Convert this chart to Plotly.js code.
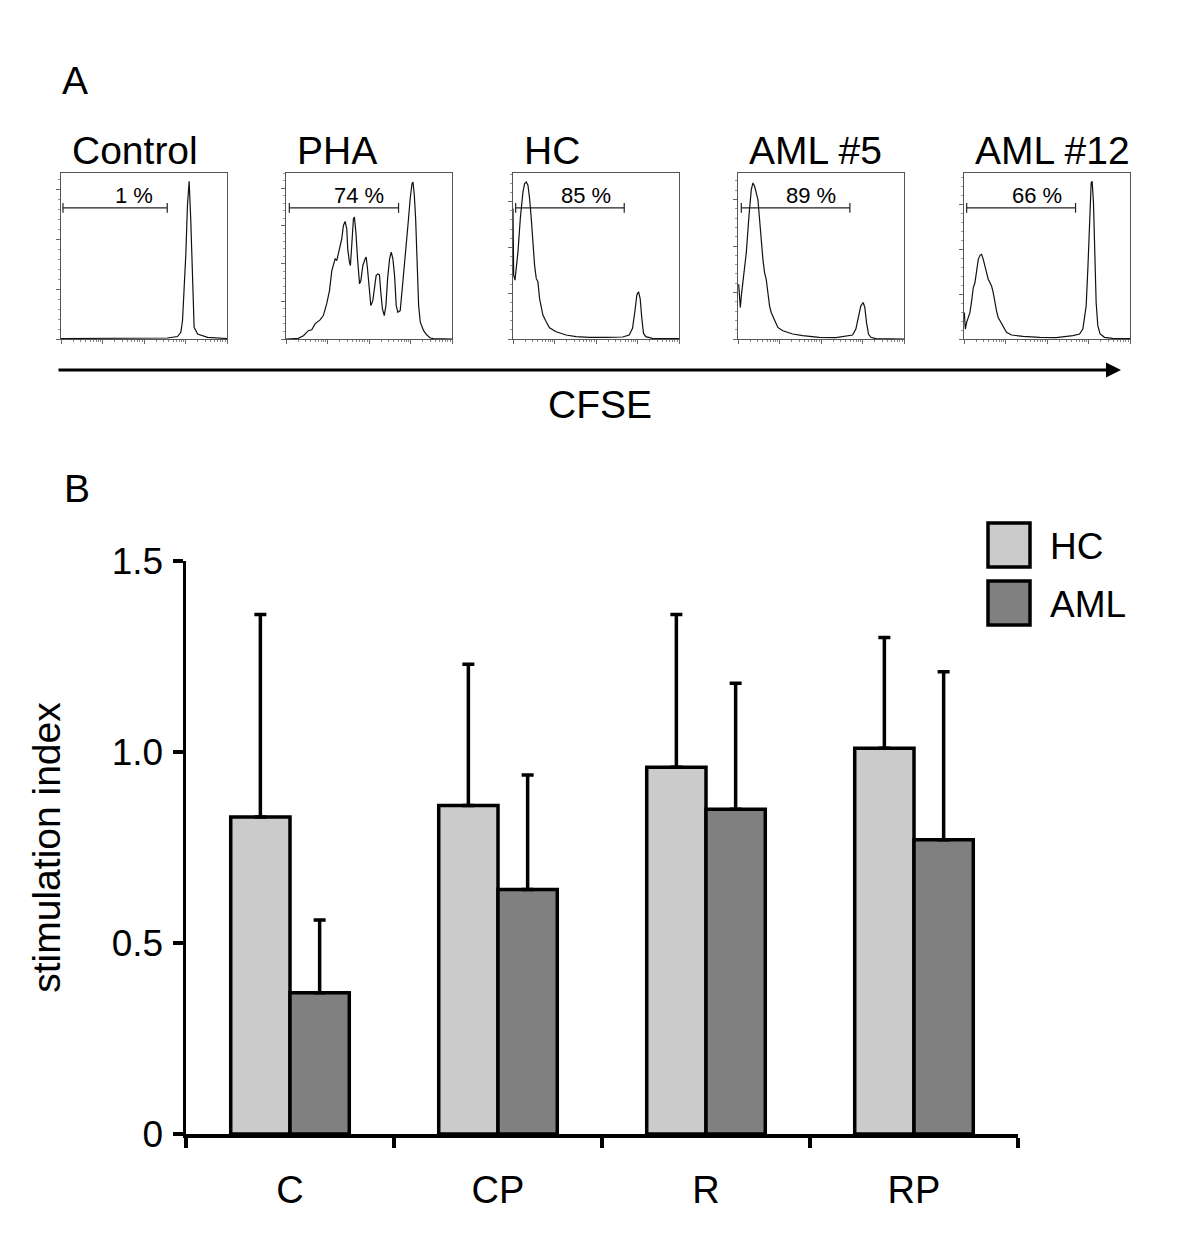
<!DOCTYPE html>
<html>
<head>
<meta charset="utf-8">
<script src="https://cdn.plot.ly/plotly-3.0.1.min.js"></script>
<style>html,body{margin:0;padding:0;background:#fff;}#chart{width:1200px;height:1259px;}</style>
</head>
<body>
<div id="chart"></div>
<script>
// ---------- Panel A: CFSE histograms (x = % of log CFSE scale, y = % of max count) ----------
const histNames = ['Control', 'PHA', 'HC', 'AML #5', 'AML #12'];
const pctLabels = ['1 %', '74 %', '85 %', '89 %', '66 %'];
const gateStart = [1.2, 2.0, 1.6, 2.0, 1.6];
const gateEnd = [64, 67.8, 67, 67.4, 67.2];

const ctrlX = [0, 30, 55, 64, 70.2, 72.2, 73.2, 74.2, 75.2, 76.2, 77.2, 78.2, 79.2, 80.2, 82.3, 88.3, 100];
const ctrlY = [0.3, 0.3, 0.4, 0.6, 1.5, 4, 11, 28, 51, 81, 95, 71, 31, 7, 3, 1, 0.3];

const phaX = [0, 7.4, 10.5, 13.5, 15.5, 17.5, 20.5, 22.5, 24.5, 26.2, 27.6, 29.6, 30.6, 31.6, 32.6, 33.6, 34.6, 35.6, 36.6, 37.2, 38.2, 38.8, 39.6, 40.6, 41.2, 42.1, 43.1, 44.3, 45.1, 46.3, 47.7, 48.3, 49.1, 50.1, 51.1, 52.3, 53.3, 54.3, 55.3, 56.3, 57.1, 58.1, 59.2, 60.2, 61.2, 62.4, 63.4, 64.4, 65.4, 66.4, 67.4, 68.8, 70.2, 71.4, 72.8, 73.8, 74.8, 75.9, 76.5, 77.3, 78.1, 78.9, 79.9, 80.9, 82.9, 84.9, 86.9, 88.9, 100];
const phaY = [0, 0.4, 2.0, 5.0, 5.6, 9.1, 11.5, 14.1, 21.1, 29.2, 41.2, 48.3, 47.3, 51.3, 56.3, 60.4, 68.4, 70.8, 66.4, 54.3, 46.3, 44.3, 56.3, 72.4, 73.4, 64.4, 48.3, 33.2, 35.2, 44.3, 48.3, 49.3, 42.3, 28.2, 20.1, 23.1, 30.2, 38.2, 39.2, 38.6, 28.2, 18.1, 14.1, 20.1, 36.2, 48.3, 52.3, 48.3, 38.2, 20.1, 16.1, 17.1, 32.2, 44.3, 62.4, 72.4, 84.5, 93.6, 94.6, 86.5, 72.4, 48.3, 20.1, 10.1, 5.0, 2.4, 0.6, 0.2, 0];

const hcX = [0, 0.4, 1.2, 2, 3, 4.4, 6, 7, 8, 9, 10, 11, 12, 13, 14, 15, 16, 17, 18, 20, 22, 26, 32, 38, 46, 56, 66, 70, 72, 73.4, 74.6, 75.6, 76.6, 77.6, 78.6, 80, 84, 100];
const hcY = [78.6, 38.5, 35.5, 42.5, 52.5, 72.5, 88.6, 93.6, 94.6, 92.6, 84.6, 72.5, 56.5, 44.5, 36.5, 34.5, 24.4, 18.4, 14.4, 10.4, 6.8, 4.4, 2.4, 1.4, 1.0, 1.0, 1.2, 2.4, 6.4, 16.4, 26.5, 28.5, 24.4, 12.4, 3.4, 1.4, 0.4, 0.2];

const aml5X = [0.4, 1.4, 2, 3.4, 5, 6.6, 8, 9, 10, 11, 12, 13, 14, 15, 16, 17, 18, 19, 20, 22, 24, 27, 33, 39, 49, 59, 65, 69, 71, 72.6, 74, 75.4, 76.4, 77.4, 78.6, 80, 83, 100];
const aml5Y = [33, 19, 26, 38, 52, 74, 90, 94, 92, 88, 84, 72, 58, 48, 40, 36, 28, 20, 16, 11, 7, 5, 3, 2, 1, 0.8, 1.6, 2.4, 6, 14, 20, 22, 19, 10, 3, 1, 0.2, 0];

const aml12X = [0.2, 0.8, 1.6, 2.6, 3.6, 4.6, 5.6, 6.6, 7.6, 8.6, 9.6, 10.6, 11.6, 12.6, 13.6, 14.6, 15.6, 16.6, 17.6, 18.6, 19.6, 20.6, 21.6, 23.6, 25.6, 28.6, 35.6, 45.6, 55.6, 65.6, 69.6, 71.6, 73.6, 74.6, 75.6, 76.6, 77.2, 78, 78.8, 79.6, 80.6, 82, 84.6, 89.6, 100];
const aml12Y = [16, 6, 10, 13, 16, 23, 31, 34, 41, 48, 50.4, 51, 48, 43, 40, 36, 34, 32, 28, 22, 17, 13, 11, 7, 4, 2.4, 1.6, 1, 0.8, 2, 3, 6, 20, 42, 72, 94, 95, 82, 52, 22, 8, 3, 1, 0.4, 0.2];

// ---------- Panel B: stimulation index ----------
const categories = ['C', 'CP', 'R', 'RP'];
const hcMean = [0.83, 0.86, 0.96, 1.01];
const hcErr = [0.53, 0.37, 0.40, 0.29];
const amlMean = [0.37, 0.64, 0.85, 0.77];
const amlErr = [0.19, 0.30, 0.33, 0.44];
const yTickVals = [0, 0.5, 1.0, 1.5];
const yTickText = ['0', '0.5', '1.0', '1.5'];

// ---------- build ----------
const W = 1200, H = 1259;
const px = v => v / W;
const py = v => 1 - v / H;
const FONT = 'Liberation Sans, Arial, Helvetica, sans-serif';

const histX = [ctrlX, phaX, hcX, aml5X, aml12X];
const histY = [ctrlY, phaY, hcY, aml5Y, aml12Y];
const boxLeft = [61, 286, 513, 738, 964];
const boxW = 166;
const boxTop = 173, boxBottom = 339;
const yMajor = [30, 22.7, 27.6, 28, 27];

const decades = [0, 25, 50, 75, 100];
const minorLog = [];
for (let d = 0; d < 4; d++) for (let k = 2; k <= 9; k++) minorLog.push(25 * (d + Math.log10(k)));

const traces = [];
const layout = {
  width: W, height: H,
  margin: {l: 0, r: 0, t: 0, b: 0},
  paper_bgcolor: '#fff', plot_bgcolor: '#fff',
  showlegend: false,
  font: {family: FONT, color: '#000'},
  bargap: 0.43, bargroupgap: 0,
  annotations: [], shapes: []
};

for (let i = 0; i < 5; i++) {
  const n = i + 1;
  const xa = 'x' + n, ya = 'y' + n;
  traces.push({
    type: 'scatter', mode: 'lines', x: histX[i], y: histY[i],
    xaxis: xa, yaxis: ya, line: {color: '#111', width: 1.2}, hoverinfo: 'skip', cliponaxis: true
  });
  const gy = 79;
  traces.push({
    type: 'scatter', mode: 'lines+markers',
    x: [gateStart[i], gateEnd[i]], y: [gy, gy],
    xaxis: xa, yaxis: ya,
    line: {color: '#222', width: 1.2},
    marker: {symbol: 'line-ns-open', size: 7, line: {color: '#222', width: 1.2}},
    hoverinfo: 'skip'
  });
  layout['xaxis' + n] = {
    domain: [px(boxLeft[i]), px(boxLeft[i] + boxW)], anchor: ya,
    range: [0, 100], showgrid: false, zeroline: false,
    showline: true, mirror: true, linecolor: '#555', linewidth: 1,
    ticks: 'outside', tickmode: 'array', tickvals: decades, ticklen: 4, tickwidth: 1, tickcolor: '#666',
    minor: {ticks: 'outside', tickmode: 'array', tickvals: minorLog, ticklen: 2, tickwidth: 1, tickcolor: '#888'},
    showticklabels: false, fixedrange: true
  };
  layout['yaxis' + n] = {
    domain: [py(boxBottom), py(boxTop)], anchor: xa,
    range: [0, 100], showgrid: false, zeroline: false,
    showline: true, mirror: true, linecolor: '#555', linewidth: 1,
    ticks: 'outside', tick0: 0, dtick: yMajor[i], ticklen: 4, tickwidth: 1, tickcolor: '#666',
    minor: {ticks: 'outside', dtick: yMajor[i] / 5, ticklen: 2, tickwidth: 1, tickcolor: '#999'},
    showticklabels: false, fixedrange: true
  };
  layout.annotations.push({
    text: histNames[i], xref: 'paper', yref: 'paper',
    x: px(boxLeft[i] + 9), y: py(150), xanchor: 'left', yanchor: 'middle',
    showarrow: false, font: {size: 39, family: FONT, color: '#000'}
  });
  layout.annotations.push({
    text: pctLabels[i], xref: xa, yref: ya, x: 44, y: 86.5,
    xanchor: 'center', yanchor: 'middle', showarrow: false,
    font: {size: 22, family: FONT, color: '#000'}
  });
}

// panel letters, arrow, CFSE
layout.annotations.push({text: 'A', xref: 'paper', yref: 'paper', x: px(60), y: py(81), xanchor: 'left', yanchor: 'middle', showarrow: false, font: {size: 39, family: FONT}});
layout.annotations.push({text: 'B', xref: 'paper', yref: 'paper', x: px(62), y: py(488), xanchor: 'left', yanchor: 'middle', showarrow: false, font: {size: 39, family: FONT}});
layout.annotations.push({
  text: '', xref: 'paper', yref: 'paper', x: px(1121), y: py(370),
  ax: -(1121 - 57), ay: 0, showarrow: true, arrowhead: 2, arrowsize: 1, arrowwidth: 3, arrowcolor: '#000', standoff: 0
});
layout.annotations.push({text: 'CFSE', xref: 'paper', yref: 'paper', x: px(600), y: py(405), xanchor: 'center', yanchor: 'middle', showarrow: false, font: {size: 39, family: FONT}});

// bar chart
const LW = 3.5;
const errStyle = {thickness: LW, width: 6, color: '#000'};
traces.push({
  type: 'bar', name: 'HC', x: categories, y: hcMean, xaxis: 'x6', yaxis: 'y6',
  marker: {color: '#cbcbcb', line: {color: '#000', width: LW}},
  error_y: Object.assign({type: 'data', symmetric: false, array: hcErr, arrayminus: hcErr.map(() => 0)}, errStyle),
  hoverinfo: 'skip'
});
traces.push({
  type: 'bar', name: 'AML', x: categories, y: amlMean, xaxis: 'x6', yaxis: 'y6',
  marker: {color: '#808080', line: {color: '#000', width: LW}},
  error_y: Object.assign({type: 'data', symmetric: false, array: amlErr, arrayminus: amlErr.map(() => 0)}, errStyle),
  hoverinfo: 'skip'
});
layout.barmode = 'group';
layout.xaxis6 = {
  domain: [px(186), px(1018)], anchor: 'y6', type: 'category', range: [-0.5, 3.5],
  showgrid: false, zeroline: false, showline: true, linecolor: '#000', linewidth: LW,
  ticks: 'outside', tickson: 'boundaries', ticklen: 10, tickwidth: LW, tickcolor: '#000',
  tickfont: {size: 38, family: FONT, color: '#000'}, ticklabelstandoff: 20, fixedrange: true
};
layout.yaxis6 = {
  domain: [py(1134), py(561)], anchor: 'x6', range: [0, 1.5],
  showgrid: false, zeroline: false, showline: true, linecolor: '#000', linewidth: LW,
  ticks: 'outside', tickmode: 'array', tickvals: yTickVals, ticktext: yTickText,
  ticklen: 10, tickwidth: LW, tickcolor: '#000',
  tickfont: {size: 37, family: FONT, color: '#000'}, ticklabelstandoff: 2,
  title: {text: 'stimulation index', font: {size: 39, family: FONT, color: '#000'}, standoff: 40},
  fixedrange: true
};

// legend (drawn as swatches + labels)
const legendItems = [{label: 'HC', color: '#cbcbcb', top: 523}, {label: 'AML', color: '#808080', top: 581}];
legendItems.forEach(it => {
  layout.shapes.push({type: 'rect', xref: 'paper', yref: 'paper', x0: px(988), x1: px(1030), y0: py(it.top), y1: py(it.top + 44),
    fillcolor: it.color, line: {color: '#000', width: LW}});
  layout.annotations.push({text: it.label, xref: 'paper', yref: 'paper', x: px(1048), y: py(it.top + 23), xanchor: 'left', yanchor: 'middle',
    showarrow: false, font: {size: 37, family: FONT, color: '#000'}});
});

Plotly.newPlot('chart', traces, layout, {displayModeBar: false, staticPlot: true});
</script>
</body>
</html>
